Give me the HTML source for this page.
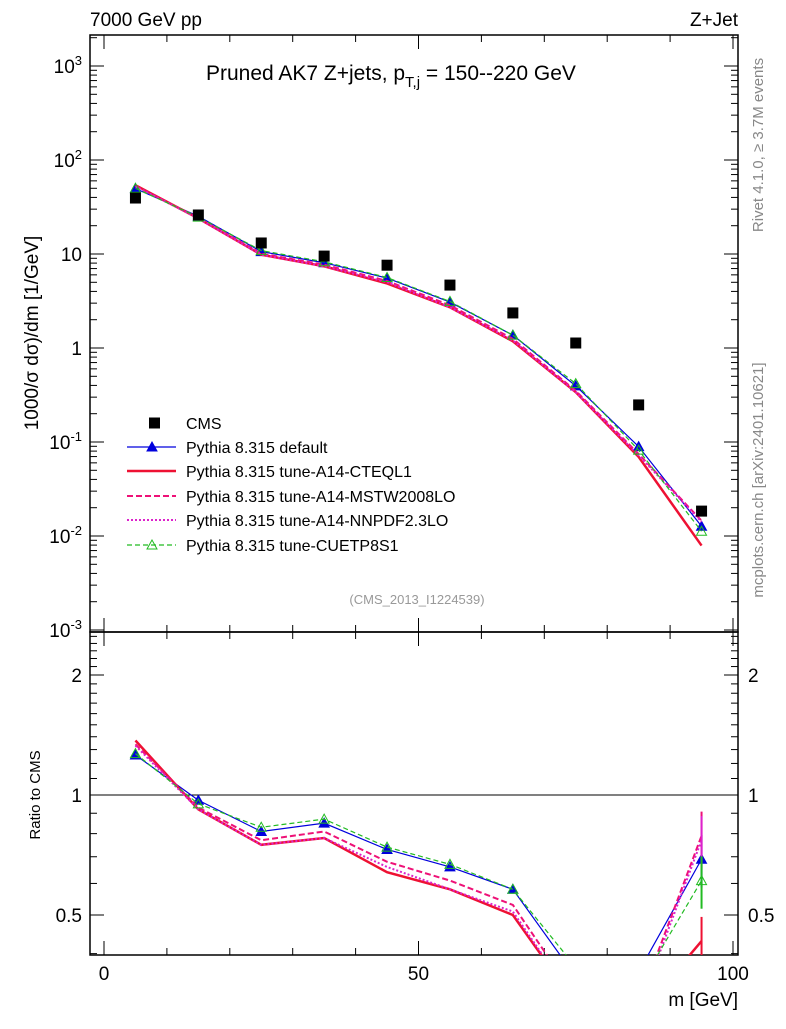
<!DOCTYPE html>
<html><head><meta charset="utf-8"><style>body{margin:0;background:#fff}svg{font-family:"Liberation Sans",sans-serif}</style></head>
<body>
<svg id="c" width="786" height="1024" xmlns="http://www.w3.org/2000/svg">
<text x="90" y="26" font-size="19">7000 GeV pp</text>
<text x="738" y="26" font-size="19" text-anchor="end">Z+Jet</text>
<text x="206" y="80" font-size="21">Pruned AK7 Z+jets, p<tspan font-size="15" dy="7">T,j</tspan><tspan dy="-7"> = 150--220 GeV</tspan></text>
<text transform="translate(38,333) rotate(-90)" font-size="19" text-anchor="middle">1000/σ    dσ)/dm [1/GeV]</text>
<text transform="translate(40,795) rotate(-90)" font-size="15" text-anchor="middle">Ratio to CMS</text>
<text transform="translate(763,145) rotate(-90)" font-size="15" fill="#888" text-anchor="middle">Rivet 4.1.0, ≥ 3.7M events</text>
<text transform="translate(763,480) rotate(-90)" font-size="15" fill="#888" text-anchor="middle">mcplots.cern.ch [arXiv:2401.10621]</text>
<text x="417" y="604" font-size="13" fill="#999" text-anchor="middle">(CMS_2013_I1224539)</text>
<text x="738" y="1006" font-size="19" text-anchor="end">m [GeV]</text>
<g id="axes"></g>
<g id="marks"></g>
<g id="legend"></g>
</svg>
<script>
const xs=[5,15,25,35,45,55,65,75,85,95];
const cms=[39.4,26,13.1,9.5,7.6,4.67,2.36,1.13,0.248,0.0184];
const rDefault=[1.26,0.97,0.81,0.85,0.73,0.66,0.58,0.35,0.36,0.69];
const rCteq=[1.37,0.92,0.75,0.78,0.64,0.58,0.50,0.30,0.28,0.43];
const rMstw=[1.34,0.93,0.77,0.81,0.68,0.61,0.53,0.31,0.30,0.79];
const rNnpdf=[1.33,0.92,0.75,0.78,0.66,0.58,0.51,0.30,0.29,0.77];
const rCuet=[1.27,0.95,0.83,0.87,0.74,0.67,0.58,0.37,0.33,0.61];
const seriesNames=["Pythia 8.315 default","Pythia 8.315 tune-A14-CTEQL1","Pythia 8.315 tune-A14-MSTW2008LO","Pythia 8.315 tune-A14-NNPDF2.3LO","Pythia 8.315 tune-CUETP8S1"];
const NS="http://www.w3.org/2000/svg";
const L=90,R=738,T=35,M=632,B=955;
const X=v=>104+v*6.29;
const Y=v=>348-94*Math.log10(v);
const YR=v=>795-120*Math.log2(v);
function el(p,t,a){const e=document.createElementNS(NS,t);for(const k in a)e.setAttribute(k,a[k]);p.appendChild(e);return e;}
const ax=document.getElementById('axes'),mk=document.getElementById('marks'),lg=document.getElementById('legend');
let f=el(ax,'rect',{x:L,y:T,width:R-L,height:M-T,fill:'none',stroke:'#000','stroke-width':1.5});

f=el(ax,'rect',{x:L,y:M,width:R-L,height:B-M,fill:'none',stroke:'#000','stroke-width':1.5});

for(let v=0;v<=100;v+=10){const maj=v%50==0;const x=X(v);
 for(const [y0,d] of [[B,-1],[M,-1],[M,1],[T,1]]){el(ax,'line',{x1:x,x2:x,y1:y0,y2:y0+d*(maj?14:7),stroke:'#000'});}
 if(maj){const t=el(ax,'text',{x:x,y:980,'font-size':19,'text-anchor':'middle'});t.textContent=v;
 }}
const yl=[["10<tspan dy='-8' font-size='13'>-3</tspan>",-3],["10<tspan dy='-8' font-size='13'>-2</tspan>",-2],["10<tspan dy='-8' font-size='13'>-1</tspan>",-1],["1",0],["10",1],["10<tspan dy='-8' font-size='13'>2</tspan>",2],["10<tspan dy='-8' font-size='13'>3</tspan>",3]];
for(let e=-3;e<=3;e++)for(let m=1;m<10;m++){const y=Y(m*Math.pow(10,e));if(y<T||y>M)continue;
 el(ax,'line',{x1:L,x2:L+(m==1?14:7),y1:y,y2:y,stroke:'#000'});el(ax,'line',{x1:R,x2:R-(m==1?14:7),y1:y,y2:y,stroke:'#000'});}
for(const [s,e] of yl){const t=el(ax,'text',{x:82,y:Y(Math.pow(10,e))+7,'font-size':19,'text-anchor':'end'});t.innerHTML=s;
 }
for(let v=0.4;v<2.6;v+=0.1){const y=YR(v);if(y<M||y>B)continue;const maj=[0.5,1,2].some(q=>Math.abs(q-v)<1e-6);
 el(ax,'line',{x1:L,x2:L+(maj?14:7),y1:y,y2:y,stroke:'#000'});el(ax,'line',{x1:R,x2:R-(maj?14:7),y1:y,y2:y,stroke:'#000'});}
for(const v of [0.5,1,2]){for(const [x,a] of [[82,'end'],[748,'start']]){const t=el(ax,'text',{x:x,y:YR(v)+7,'font-size':19,'text-anchor':a});t.textContent=v;
 }}
el(ax,'line',{x1:L,x2:R,y1:YR(1),y2:YR(1),stroke:'#000'});
const defs=el(mk,'defs',{});
el(el(defs,'clipPath',{id:'cm'}),'rect',{x:L,y:T,width:R-L,height:M-T});
el(el(defs,'clipPath',{id:'cr'}),'rect',{x:L,y:M,width:R-L,height:B-M});
const styles=[{c:'#0000dd',w:1.2,d:'',m:'tri'},{c:'#ee1133',w:2.5,d:'',m:''},{c:'#ee1177',w:2,d:'6,3',m:''},{c:'#dd22cc',w:2,d:'2,2',m:''},{c:'#22bb22',w:1.2,d:'5,3',m:'otri'}];
const ratios=[rDefault,rCteq,rMstw,rNnpdf,rCuet];
const names=['default','cteql1','mstw2008lo','nnpdf23lo','cuetp8s1'];
function tri(g,x,y,s,open){return el(g,'polygon',{points:`${x},${y-5} ${x-5},${y+4} ${x+5},${y+4}`,fill:open?'none':s.c,stroke:s.c,'stroke-width':1});}
ratios.forEach((r,i)=>{const s=styles[i];
 const main=r.map((q,j)=>q*cms[j]);
 const g1=el(mk,'g',{'clip-path':'url(#cm)'});
 el(g1,'polyline',{points:xs.map((x,j)=>X(x)+','+Y(main[j])).join(' '),fill:'none',stroke:s.c,'stroke-width':s.w,'stroke-dasharray':s.d});
 const g2=el(mk,'g',{'clip-path':'url(#cr)'});
 el(g2,'polyline',{points:xs.map((x,j)=>X(x)+','+YR(r[j])).join(' '),fill:'none',stroke:s.c,'stroke-width':s.w,'stroke-dasharray':s.d});
 if(s.m){xs.forEach((x,j)=>{tri(g1,X(x),Y(main[j]),s,s.m=='otri');tri(g2,X(x),YR(r[j]),s,s.m=='otri');});}
 el(g2,'line',{x1:X(95),x2:X(95),y1:YR(r[9]*1.15),y2:YR(r[9]*0.85),stroke:s.c,'stroke-width':2});
});
xs.forEach((x,j)=>{const p=el(mk,'rect',{x:X(x)-5.5,y:Y(cms[j])-5.5,width:11,height:11,fill:'#000'});
 });
const ly=[423,447,471,496,520,545];
el(lg,'rect',{x:149,y:ly[0]-5.5,width:11,height:11,fill:'#000'});
let t=el(lg,'text',{x:186,y:ly[0]+6,'font-size':16});t.textContent='CMS';

styles.forEach((s,i)=>{const y=ly[i+1];
 el(lg,'line',{x1:127,x2:176,y1:y,y2:y,stroke:s.c,'stroke-width':s.w,'stroke-dasharray':s.d});
 if(s.m)tri(lg,152,y,s,s.m=='otri');
 const tt=el(lg,'text',{x:186,y:y+6,'font-size':16});tt.textContent=seriesNames[i];
 });
</script>
</body></html>
